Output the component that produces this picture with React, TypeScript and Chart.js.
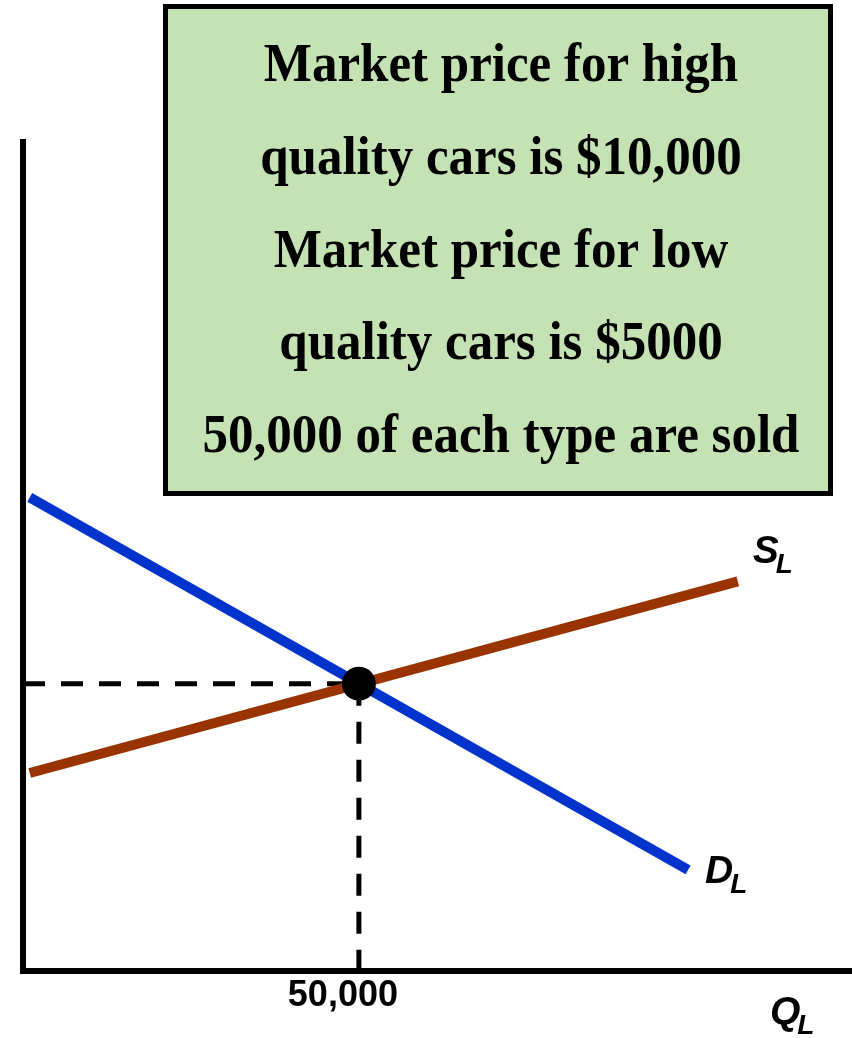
import React, { useEffect, useRef } from 'react';
import { Chart, registerables } from 'chart.js';

Chart.register(...registerables);

// ---- Data ----
const quantityMax = 123400;
const priceMax = 14425;
const demandQuantity = [1000, 99000];
const demandPrice = [8240, 1760];
const supplyQuantity = [1000, 106400];
const supplyPrice = [3445, 6780];
const equilibriumQuantity = [50000];
const equilibriumPrice = [5000];
const xTickValues = [50000];
const xTickLabels = ['50,000'];
const boxLines = [
  'Market price for high',
  'quality cars is $10,000',
  'Market price for low',
  'quality cars is $5000',
  '50,000 of each type are sold',
];
const supplyLabel = ['S', 'L'];
const demandLabel = ['D', 'L'];
const quantityAxisLabel = ['Q', 'L'];

const SANS = '"Liberation Sans", Arial, sans-serif';
const SERIF = '"Liberation Serif", "Times New Roman", serif';

const annotationPlugin = {
  id: 'lemonsAnnotations',
  afterDraw(chart: any) {
    const ctx = chart.ctx as CanvasRenderingContext2D;
    const xs = chart.scales.x;
    const ys = chart.scales.y;
    const area = chart.chartArea;
    ctx.save();
    // Info box
    const bx = 165.5, by = 6.5, bw = 665, bh = 487;
    ctx.fillStyle = '#C4E2B4';
    ctx.fillRect(bx, by, bw, bh);
    ctx.lineWidth = 5;
    ctx.strokeStyle = '#000';
    ctx.strokeRect(bx, by, bw, bh);
    ctx.fillStyle = '#000';
    ctx.font = `bold 51px ${SERIF}`;
    ctx.textAlign = 'center';
    ctx.textBaseline = 'alphabetic';
    boxLines.forEach((line, i) => {
      ctx.save();
      ctx.translate(501, 81 + i * 92.75);
      ctx.scale(1, 1.08);
      ctx.fillText(line, 0, 0);
      ctx.restore();
    });

    const drawSub = (parts: string[], x: number, y: number) => {
      ctx.textAlign = 'left';
      ctx.textBaseline = 'alphabetic';
      ctx.font = `italic bold 39px ${SANS}`;
      ctx.fillText(parts[0], x, y);
      const w = ctx.measureText(parts[0]).width;
      ctx.font = `italic bold 28px ${SANS}`;
      ctx.fillText(parts[1], x + w - 3, y + 10);
    };
    const sx = xs.getPixelForValue(supplyQuantity[supplyQuantity.length - 1]);
    const sy = ys.getPixelForValue(supplyPrice[supplyPrice.length - 1]);
    drawSub(supplyLabel, sx + 15, sy - 18);
    const dx = xs.getPixelForValue(demandQuantity[demandQuantity.length - 1]);
    const dy = ys.getPixelForValue(demandPrice[demandPrice.length - 1]);
    drawSub(demandLabel, dx + 17, dy + 13);
    drawSub(quantityAxisLabel, area.right - 82, area.bottom + 53);
    ctx.restore();
  },
};

export default function App() {
  const canvasRef = useRef<HTMLCanvasElement | null>(null);

  useEffect(() => {
    const canvas = canvasRef.current;
    if (!canvas) return;
    const chart = new Chart(canvas, {
      type: 'line',
      data: {
        datasets: [
          {
            label: 'Equilibrium',
            data: equilibriumQuantity.map((q, i) => ({ x: q, y: equilibriumPrice[i] })),
            showLine: false,
            pointRadius: 17,
            pointHoverRadius: 17,
            pointBackgroundColor: '#000',
            pointBorderWidth: 0,
            borderColor: '#000',
          },
          {
            label: 'D_L',
            data: demandQuantity.map((q, i) => ({ x: q, y: demandPrice[i] })),
            borderColor: '#0033CC',
            borderWidth: 10,
            pointRadius: 0,
            tension: 0,
          },
          {
            label: 'S_L',
            data: supplyQuantity.map((q, i) => ({ x: q, y: supplyPrice[i] })),
            borderColor: '#993300',
            borderWidth: 10,
            pointRadius: 0,
            tension: 0,
          },
          {
            label: 'Price guide',
            data: [
              { x: 0, y: equilibriumPrice[0] },
              { x: equilibriumQuantity[0], y: equilibriumPrice[0] },
            ],
            borderColor: '#000',
            borderWidth: 5,
            borderDash: [22, 16],
            pointRadius: 0,
          },
          {
            label: 'Quantity guide',
            data: [
              { x: equilibriumQuantity[0], y: equilibriumPrice[0] },
              { x: equilibriumQuantity[0], y: 0 },
            ],
            borderColor: '#000',
            borderWidth: 5,
            borderDash: [22, 16],
            pointRadius: 0,
          },
        ],
      },
      options: {
        responsive: false,
        animation: false,
        events: [],
        layout: { autoPadding: false, padding: { top: 142, left: 0, right: 0, bottom: 0 } },
        plugins: {
          legend: { display: false },
          tooltip: { enabled: false },
        },
        scales: {
          x: {
            type: 'linear',
            min: 0,
            max: quantityMax,
            grid: { display: false, drawTicks: false },
            border: { display: true, color: '#000', width: 6 },
            afterBuildTicks: (s: any) => {
              s.ticks = xTickValues.map((v) => ({ value: v }));
            },
            ticks: {
              callback: (v: any) => {
                const i = xTickValues.indexOf(Number(v));
                return i >= 0 ? xTickLabels[i] : '';
              },
              font: { family: SANS, size: 36, weight: 'bold' },
              color: '#000',
              padding: 3,
              labelOffset: -16,
              maxRotation: 0,
              autoSkip: false,
            },
            afterFit: (s: any) => {
              s.height = 67;
              s.paddingLeft = 0;
              s.paddingRight = 0;
            },
          },
          y: {
            type: 'linear',
            min: 0,
            max: priceMax,
            grid: { display: false, drawTicks: false },
            border: { display: true, color: '#000', width: 6 },
            ticks: { display: false },
            afterFit: (s: any) => {
              s.width = 23;
              s.paddingTop = 0;
              s.paddingBottom = 0;
            },
          },
        },
      } as any,
      plugins: [annotationPlugin],
    });
    return () => chart.destroy();
  }, []);

  return (
    <div style={{ position: 'absolute', left: 0, top: 0, width: 852, height: 1038, background: '#fff' }}>
      <canvas ref={canvasRef} width={852} height={1038} style={{ display: 'block' }} />
    </div>
  );
}
